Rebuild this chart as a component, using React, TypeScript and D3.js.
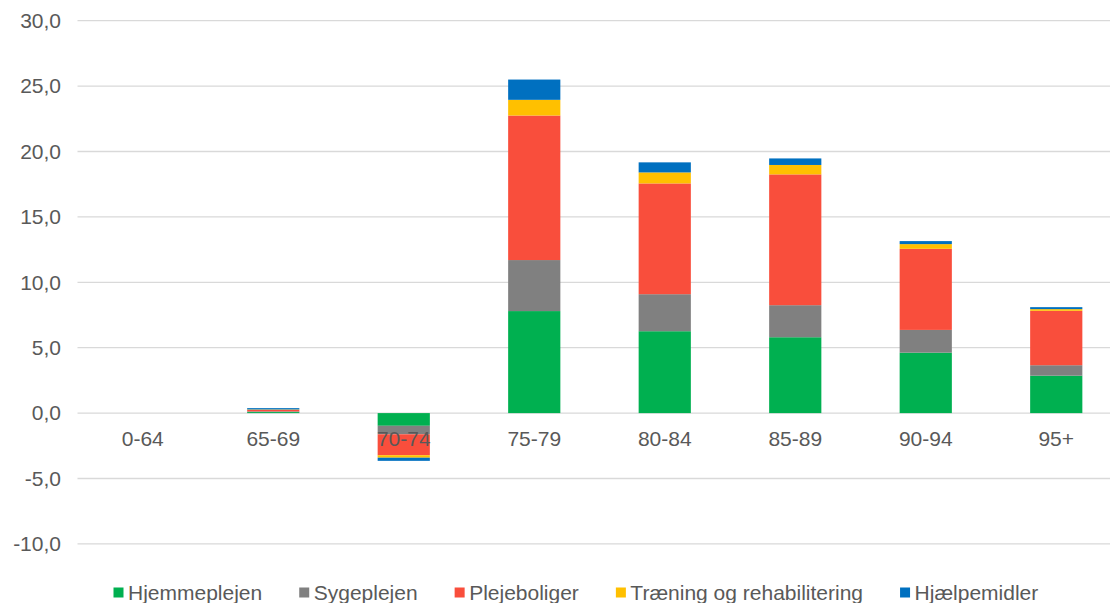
import React from "react";
import * as d3 from "d3";

// Age groups on the x axis
const categories = ["0-64", "65-69", "70-74", "75-79", "80-84", "85-89", "90-94", "95+"];

// Series values per age group
const hjemmeplejen = [0, 0.08, -0.97, 7.8, 6.26, 5.8, 4.62, 2.86];
const sygeplejen = [0, 0.05, -0.65, 3.9, 2.83, 2.45, 1.74, 0.8];
const plejeboliger = [0, 0.12, -1.6, 11.05, 8.47, 10.0, 6.2, 4.16];
const traening = [0, 0.03, -0.19, 1.2, 0.84, 0.72, 0.36, 0.13];
const hjaelpemidler = [0, 0.1, -0.24, 1.55, 0.77, 0.5, 0.23, 0.15];

const seriesNames = ["Hjemmeplejen", "Sygeplejen", "Plejeboliger", "Træning og rehabilitering", "Hjælpemidler"];
const seriesValues = [hjemmeplejen, sygeplejen, plejeboliger, traening, hjaelpemidler];
const seriesColors = ["#00b050", "#808080", "#f94e3c", "#ffc000", "#0070c0"];

const yTicks = [-10, -5, 0, 5, 10, 15, 20, 25, 30];

const W = 1110;
const H = 603;
const FONT = "'Liberation Sans', Arial, sans-serif";
const FS = 21;
const TEXT = "#595959";

function measure(text: string): number {
  const c = document.createElement("canvas").getContext("2d");
  if (!c) return text.length * FS * 0.5;
  c.font = `${FS}px ${FONT}`;
  return c.measureText(text).width;
}

export default function App() {
  const x = d3.scaleBand<string>().domain(categories).range([77.5, 77.5 + 130.5 * 8]).paddingInner(0.6).paddingOuter(0.3);
  const y = d3.scaleLinear().domain([-10, 30]).range([543.9, 20.7]);

  const rows = categories.map((c, i) => {
    const r: Record<string, number | string> = { cat: c };
    seriesNames.forEach((n, k) => (r[n] = seriesValues[k][i]));
    return r;
  });
  const stack = d3
    .stack<Record<string, number | string>>()
    .keys(seriesNames)
    .value((d, key) => d[key] as number)
    .offset(d3.stackOffsetDiverging);
  const layers = stack(rows);

  const fmt = (v: number) => v.toFixed(1).replace(".", ",");

  // legend layout
  let lx = 113.5;
  const legendItems = seriesNames.map((n, i) => {
    const item = { name: n, color: seriesColors[i], x: lx };
    lx += 10 + 4.5 + measure(n) + 37;
    return item;
  });

  return (
    <svg width={W} height={H} style={{ position: "absolute", left: 0, top: 0, background: "#fff" }} fontFamily={FONT}>
      {yTicks.map((t) => (
        <g key={t}>
          <line x1={77.5} x2={W} y1={y(t)} y2={y(t)} stroke="#d9d9d9" strokeWidth={1.3} />
          <text x={61} y={y(t)} dy="0.35em" textAnchor="end" fontSize={FS} fill={TEXT}>
            {fmt(t)}
          </text>
        </g>
      ))}
      {layers.map((layer, k) => (
        <g key={layer.key} fill={seriesColors[k]}>
          {layer.map((d, i) => {
            const y0 = y(d[0]);
            const y1 = y(d[1]);
            const h = Math.abs(y0 - y1);
            if (h <= 0) return null;
            return <rect key={i} x={x(categories[i])} width={x.bandwidth()} y={Math.min(y0, y1)} height={h} />;
          })}
        </g>
      ))}
      {categories.map((c) => (
        <text key={c} x={(x(c) as number) + x.bandwidth() / 2} y={445.5} textAnchor="middle" fontSize={FS} fill={TEXT}>
          {c}
        </text>
      ))}
      {legendItems.map((it) => (
        <g key={it.name}>
          <rect x={it.x} y={587.5} width={10} height={10} fill={it.color} />
          <text x={it.x + 14.5} y={600} fontSize={FS} fill={TEXT}>
            {it.name}
          </text>
        </g>
      ))}
    </svg>
  );
}
